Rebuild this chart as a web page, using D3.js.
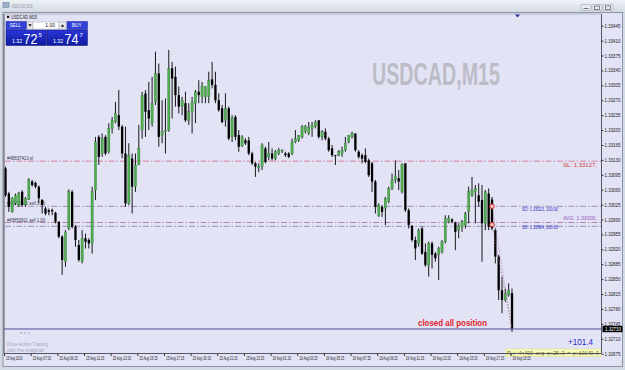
<!DOCTYPE html>
<html><head><meta charset="utf-8">
<script src="https://cdn.jsdelivr.net/npm/d3@7"></script>
<style>html,body{margin:0;padding:0;background:#fff;overflow:hidden}svg{display:block}</style>
</head><body><svg id="c" width="625" height="370"></svg>
<script>
// ---------------- DATA ----------------
const symbol = "USDCAD,M15";
const open  = [1.33110,1.33051,1.33008,1.33028,1.33024,1.33055,1.33024,1.33037,1.33079,1.33076,1.33067,1.33036,1.33016,1.33012,1.33012,1.33006,1.32985,1.32950,1.32891,1.32969,1.33055,1.32973,1.32930,1.32891,1.32946,1.32942,1.32934,1.33059,1.33184,1.33145,1.33184,1.33149,1.33204,1.33219,1.33235,1.33208,1.33145,1.33028,1.33133,1.33067,1.33118,1.33200,1.33286,1.33247,1.33216,1.33266,1.33333,1.33188,1.33196,1.33200,1.33345,1.33325,1.33282,1.33255,1.33263,1.33223,1.33243,1.33263,1.33290,1.33278,1.33278,1.33278,1.33319,1.33306,1.33270,1.33251,1.33223,1.33251,1.33184,1.33231,1.33188,1.33162,1.33176,1.33176,1.33145,1.33122,1.33111,1.33114,1.33157,1.33137,1.33145,1.33133,1.33145,1.33151,1.33145,1.33145,1.33145,1.33172,1.33176,1.33184,1.33196,1.33192,1.33204,1.33208,1.33223,1.33184,1.33196,1.33180,1.33157,1.33141,1.33141,1.33145,1.33153,1.33172,1.33184,1.33192,1.33149,1.33141,1.33141,1.33129,1.33122,1.33079,1.33000,1.33020,1.33016,1.33032,1.33063,1.33083,1.33087,1.33055,1.33122,1.33012,1.32975,1.32942,1.32934,1.32969,1.32914,1.32883,1.32934,1.32910,1.32907,1.32914,1.32938,1.32985,1.32990,1.32982,1.32965,1.32972,1.32977,1.33008,1.33047,1.33055,1.33047,1.33036,1.32981,1.33051,1.33037,1.32965,1.32903,1.32824,1.32801,1.32813,1.32817];
const high  = [1.33114,1.33055,1.33043,1.33051,1.33055,1.33059,1.33043,1.33087,1.33083,1.33079,1.33070,1.33038,1.33020,1.33016,1.33016,1.33008,1.32985,1.32953,1.32965,1.33061,1.33059,1.32977,1.32942,1.32965,1.32957,1.32946,1.33067,1.33184,1.33188,1.33192,1.33188,1.33216,1.33231,1.33266,1.33294,1.33212,1.33208,1.33169,1.33145,1.33145,1.33212,1.33290,1.33294,1.33313,1.33325,1.33384,1.33356,1.33270,1.33274,1.33388,1.33360,1.33349,1.33302,1.33278,1.33290,1.33263,1.33278,1.33294,1.33317,1.33313,1.33302,1.33337,1.33360,1.33337,1.33286,1.33259,1.33286,1.33255,1.33235,1.33235,1.33200,1.33188,1.33181,1.33184,1.33149,1.33125,1.33122,1.33169,1.33161,1.33172,1.33157,1.33153,1.33158,1.33155,1.33149,1.33148,1.33180,1.33200,1.33188,1.33212,1.33212,1.33219,1.33219,1.33223,1.33223,1.33200,1.33204,1.33184,1.33165,1.33141,1.33153,1.33161,1.33184,1.33188,1.33196,1.33192,1.33153,1.33145,1.33157,1.33133,1.33125,1.33083,1.33028,1.33024,1.33043,1.33067,1.33098,1.33129,1.33106,1.33122,1.33122,1.33016,1.32977,1.32950,1.32969,1.32973,1.32934,1.32938,1.32938,1.32914,1.32926,1.32942,1.33000,1.33000,1.32993,1.32985,1.32981,1.32989,1.33008,1.33067,1.33090,1.33071,1.33075,1.33071,1.33059,1.33063,1.33043,1.32969,1.32907,1.32856,1.32828,1.32840,1.32828];
const low   = [1.33043,1.33008,1.33006,1.33024,1.33020,1.33020,1.33020,1.33036,1.33067,1.33063,1.33028,1.33004,1.33000,1.33000,1.33000,1.32981,1.32946,1.32860,1.32879,1.32965,1.32969,1.32926,1.32891,1.32887,1.32922,1.32922,1.32910,1.33036,1.33118,1.33137,1.33141,1.33145,1.33192,1.33216,1.33200,1.33134,1.33020,1.33024,1.33004,1.33055,1.33118,1.33180,1.33184,1.33200,1.33208,1.33259,1.33161,1.33169,1.33145,1.33196,1.33227,1.33255,1.33239,1.33235,1.33219,1.33212,1.33192,1.33216,1.33263,1.33263,1.33263,1.33263,1.33298,1.33263,1.33243,1.33216,1.33208,1.33176,1.33172,1.33176,1.33149,1.33161,1.33165,1.33141,1.33118,1.33090,1.33101,1.33106,1.33122,1.33129,1.33129,1.33129,1.33141,1.33146,1.33137,1.33134,1.33141,1.33169,1.33172,1.33180,1.33192,1.33188,1.33184,1.33204,1.33180,1.33176,1.33176,1.33149,1.33137,1.33118,1.33139,1.33137,1.33149,1.33169,1.33180,1.33149,1.33133,1.33122,1.33122,1.33090,1.33055,1.33004,1.32996,1.32996,1.32977,1.33028,1.33059,1.33075,1.33059,1.33051,1.33008,1.32969,1.32938,1.32895,1.32926,1.32907,1.32879,1.32856,1.32875,1.32891,1.32848,1.32910,1.32934,1.32981,1.32981,1.32918,1.32946,1.32961,1.32969,1.32981,1.33043,1.32981,1.33020,1.32891,1.32965,1.32965,1.32965,1.32887,1.32801,1.32770,1.32797,1.32809,1.32726];
const close = [1.33047,1.33020,1.33040,1.33047,1.33051,1.33024,1.33040,1.33083,1.33071,1.33067,1.33040,1.33024,1.33004,1.33008,1.33009,1.32985,1.32950,1.32895,1.32961,1.33055,1.32973,1.32942,1.32895,1.32946,1.32938,1.32934,1.33055,1.33172,1.33137,1.33180,1.33145,1.33204,1.33223,1.33239,1.33208,1.33145,1.33028,1.33141,1.33067,1.33118,1.33157,1.33282,1.33243,1.33227,1.33263,1.33333,1.33184,1.33196,1.33200,1.33345,1.33321,1.33282,1.33255,1.33270,1.33223,1.33243,1.33266,1.33290,1.33282,1.33303,1.33302,1.33316,1.33306,1.33270,1.33247,1.33219,1.33251,1.33180,1.33227,1.33184,1.33161,1.33184,1.33169,1.33145,1.33122,1.33114,1.33115,1.33165,1.33125,1.33145,1.33133,1.33149,1.33153,1.33152,1.33141,1.33137,1.33172,1.33180,1.33188,1.33208,1.33209,1.33206,1.33212,1.33219,1.33184,1.33196,1.33180,1.33153,1.33141,1.33140,1.33149,1.33153,1.33169,1.33188,1.33192,1.33153,1.33137,1.33133,1.33125,1.33094,1.33079,1.33020,1.33024,1.33008,1.33040,1.33063,1.33083,1.33092,1.33079,1.33120,1.33012,1.32977,1.32942,1.32922,1.32965,1.32910,1.32883,1.32934,1.32907,1.32899,1.32922,1.32938,1.32993,1.32993,1.32985,1.32961,1.32975,1.32985,1.33004,1.33055,1.33059,1.33063,1.33032,1.32981,1.33055,1.32973,1.32969,1.32903,1.32824,1.32801,1.32817,1.32824,1.32733];
const timeLabels = ["15 Aug 2019","15 Aug 07:15","15 Aug 09:15","15 Aug 11:15","15 Aug 13:15","15 Aug 15:15","15 Aug 17:15","15 Aug 19:15","15 Aug 21:15","15 Aug 23:15","16 Aug 01:15","16 Aug 03:15","16 Aug 05:15","16 Aug 07:15","16 Aug 09:15","16 Aug 11:15","16 Aug 13:15","16 Aug 15:15","16 Aug 17:15","16 Aug 19:15"];
const timeLabelBars = [0,8,16,24,32,40,48,56,64,72,80,88,96,104,112,120,128,136,144,152];
const priceTicks = [1.32675,1.32710,1.32745,1.32780,1.32815,1.32850,1.32885,1.32920,1.32955,1.32990,1.33025,1.33060,1.33095,1.33130,1.33165,1.33200,1.33235,1.33270,1.33305,1.33340,1.33375,1.33410,1.33445];
const bidPrice = 1.32733;
const levelPrices = [1.33127, 1.33021, 1.32983, 1.32974];
const levelLeftLabels = ["#45837413 sl", "#45852431 sell 1.00", "#45853611 sell 1.00", ""];
const rightLabels = ["SL: 1.33127,", "SO: 1.33023, 100.00", "AVG: 1.33000,", "SO: 1.32984, 100.00"];
const rightLabelPrices = [1.33127, 1.33021, 1.32983, 1.32974];
const entryBars = [146, 146];
const entryPrices = [1.33021, 1.32978];
const closeBar = 152;
const sellPrice = ["1.32", "72", "5"];
const buyPrice = ["1.32", "74", "7"];
const lotSize = "1.00";
const profitText = "+101.4";
const plText = "PL: 4<400 avg p+25.3 = p+10140.0";
const noteText = "closed all position";
const commentLines = ["* * *", "Price Action Trading", "plot the magical"];

// ---------------- LAYOUT ----------------
const svg = d3.select("#c");
const L = 4, R = 601.5, T = 14, B = 353.5;
const x = d3.scaleLinear().domain([0, 152]).range([5.5, 512]);
const y = d3.scaleLinear().domain([1.32675, 1.33445]).range([353.7, 25.7]);
const bg = "#e3e3f6";

// window frame
svg.append("rect").attr("width",625).attr("height",370).attr("fill","#d3dae3");
const tg = svg.append("defs").append("linearGradient").attr("id","tb").attr("x1",0).attr("y1",0).attr("x2",0).attr("y2",1);
tg.append("stop").attr("offset","0").attr("stop-color","#eef2f6");
tg.append("stop").attr("offset","1").attr("stop-color","#d6dde6");
svg.append("rect").attr("x",0).attr("y",0).attr("width",625).attr("height",11).attr("fill","url(#tb)");
svg.append("rect").attr("x",3).attr("y",2.5).attr("width",6).attr("height",5).attr("fill","#9fb3c8").attr("stroke","#6c88a8").attr("stroke-width",0.6);
svg.append("text").attr("x",11.5).attr("y",7.8).attr("font-family","Liberation Sans, Arial, sans-serif").attr("font-size",5.5).attr("fill","#8894a4").attr("textLength",21).attr("lengthAdjust","spacingAndGlyphs").text(symbol);
[581,592,603].forEach(bx=>{
  svg.append("rect").attr("x",bx).attr("y",4.5).attr("width",10).attr("height",6).attr("rx",1).attr("fill","#e6ebf1").attr("stroke","#98a4b4").attr("stroke-width",0.6);
});
svg.append("line").attr("x1",583.5).attr("x2",588.5).attr("y1",8.5).attr("y2",8.5).attr("stroke","#555").attr("stroke-width",0.8);
svg.append("rect").attr("x",594.5).attr("y",6).attr("width",5).attr("height",3.5).attr("fill","none").attr("stroke","#555").attr("stroke-width",0.7);
svg.append("rect").attr("x",605.5).attr("y",6).attr("width",5).attr("height",3.5).attr("fill","none").attr("stroke","#555").attr("stroke-width",0.7);

// chart background incl. axes
svg.append("rect").attr("x",3).attr("y",12.5).attr("width",619.5).attr("height",354).attr("fill",bg);
svg.append("rect").attr("x",3).attr("y",12.5).attr("width",619.5).attr("height",354).attr("fill","none").attr("stroke","#8d96a3").attr("stroke-width",1);

// comment text
svg.append("text").attr("x",20).attr("y",335.5).attr("font-family","Liberation Sans, Arial, sans-serif").attr("font-size",5).attr("fill","#9a9aae").attr("textLength",10).attr("lengthAdjust","spacingAndGlyphs").text(commentLines[0]);
svg.append("text").attr("x",7).attr("y",345.5).attr("font-family","Liberation Sans, Arial, sans-serif").attr("font-size",4.6).attr("fill","#a6a6b8").attr("textLength",41).attr("lengthAdjust","spacingAndGlyphs").text(commentLines[1]);
svg.append("text").attr("x",7).attr("y",351.5).attr("font-family","Liberation Sans, Arial, sans-serif").attr("font-size",4.6).attr("fill","#a6a6b8").attr("textLength",37).attr("lengthAdjust","spacingAndGlyphs").text(commentLines[2]);

// watermark
svg.append("text").attr("x",372).attr("y",85).attr("font-family","Liberation Sans, Arial, sans-serif").attr("font-weight","bold").attr("font-size",31).attr("fill","#bcbcc6").attr("textLength",128).attr("lengthAdjust","spacingAndGlyphs").text(symbol);

// level lines
const levelColors = ["#cf6a82","#8f77a6","#a86a9e","#8676ad"];
levelPrices.forEach((p,i)=>{
  svg.append("line").attr("x1",L+1).attr("x2",R).attr("y1",y(p)).attr("y2",y(p))
    .attr("stroke",levelColors[i]).attr("stroke-width",0.8).attr("stroke-dasharray","6,2,1.5,2");
});
const leftLabelX = [7,7,7];
levelLeftLabels.forEach((t,i)=>{
  if(!t) return;
  const w = i===0 ? 26 : 38;
  svg.append("text").attr("x",leftLabelX[i]).attr("y",y(levelPrices[i])-1).attr("font-family","Liberation Sans, Arial, sans-serif").attr("font-size",4.6).attr("fill","#333344").attr("textLength",w).attr("lengthAdjust","spacingAndGlyphs").text(t);
});
const rlX = [563,522,563,522], rlDy = [4.5,3,-4.5,1], rlCol = ["#d23a3a","#2b2bc4","#9a55c0","#2b2bc4"], rlW=[34,36,34,36];
rightLabels.forEach((t,i)=>{
  svg.append("text").attr("x",rlX[i]).attr("y",y(rightLabelPrices[i])+rlDy[i]+1.5).attr("font-family","Liberation Sans, Arial, sans-serif").attr("font-size",4.8).attr("fill",rlCol[i]).attr("textLength",rlW[i]).attr("lengthAdjust","spacingAndGlyphs").text(t);
});

// candles
const idx = d3.range(open.length);
const g = svg.append("g");
g.selectAll("line.w").data(idx).join("line").attr("class","w")
  .attr("x1",i=>x(i)).attr("x2",i=>x(i)).attr("y1",i=>y(high[i])).attr("y2",i=>y(low[i]))
  .attr("stroke","#000").attr("stroke-width",0.9);
const bw = 2.3;
g.selectAll("rect.b").data(idx).join("rect").attr("class","b")
  .attr("x",i=>x(i)-bw/2).attr("width",bw)
  .attr("y",i=>y(Math.max(open[i],close[i])))
  .attr("height",i=>Math.max(0.9, Math.abs(y(open[i])-y(close[i]))))
  .attr("fill",i=>close[i]>=open[i] ? "#4fae4f" : "#000")
  .attr("stroke",i=>close[i]>=open[i] ? "#2f6f2f" : "none").attr("stroke-width",0.3);

// trade lines & markers
entryBars.forEach((b,i)=>{
  svg.append("line").attr("x1",x(b)).attr("y1",y(entryPrices[i])).attr("x2",x(closeBar)).attr("y2",y(bidPrice))
    .attr("stroke","#9a6a8a").attr("stroke-width",0.7).attr("stroke-dasharray","1.5,1.5").attr("opacity",0.8);
  svg.append("circle").attr("cx",x(b)).attr("cy",y(entryPrices[i])).attr("r",2.2).attr("fill","#f4d0d0").attr("stroke","#e02020").attr("stroke-width",1);
});

// bid line
svg.append("line").attr("x1",L).attr("x2",R).attr("y1",y(bidPrice)).attr("y2",y(bidPrice)).attr("stroke","#4a4a9a").attr("stroke-width",1);

// note text
svg.append("text").attr("x",418).attr("y",326).attr("font-family","Liberation Sans, Arial, sans-serif").attr("font-weight","bold").attr("font-size",8.5).attr("fill","#e0262a").attr("textLength",69).attr("lengthAdjust","spacingAndGlyphs").text(noteText);

// profit text
svg.append("text").attr("x",568).attr("y",344.5).attr("font-family","Liberation Sans, Arial, sans-serif").attr("font-size",8.5).attr("fill","#2a2ac0").attr("textLength",25).attr("lengthAdjust","spacingAndGlyphs").text(profitText);
svg.append("rect").attr("x",505.5).attr("y",349).attr("width",96).attr("height",7.5).attr("fill","#fafab8").attr("stroke","#d6d690").attr("stroke-width",0.5);
svg.append("text").attr("x",507).attr("y",354.8).attr("font-family","Liberation Mono, DejaVu Sans Mono, monospace").attr("font-size",4.8).attr("fill","#5a6a2a").attr("textLength",92).attr("lengthAdjust","spacingAndGlyphs").text(plText);

// chart borders
svg.append("line").attr("x1",R).attr("x2",R).attr("y1",T).attr("y2",B).attr("stroke","#555566").attr("stroke-width",1);
svg.append("line").attr("x1",L).attr("x2",R).attr("y1",B).attr("y2",B).attr("stroke","#555566").attr("stroke-width",1);
svg.append("line").attr("x1",L).attr("x2",L).attr("y1",T).attr("y2",B).attr("stroke","#555566").attr("stroke-width",1);
svg.append("line").attr("x1",L).attr("x2",R).attr("y1",T).attr("y2",T).attr("stroke","#8d96a3").attr("stroke-width",0.6);

// price axis
const yAxis = d3.axisRight(y).tickValues(priceTicks).tickSize(2).tickPadding(1).tickFormat(d3.format(".5f"));
const ya = svg.append("g").attr("transform",`translate(${R},0)`).call(yAxis);
ya.select(".domain").remove();
ya.selectAll("line").attr("stroke","#333");
ya.selectAll("text").attr("font-family","Liberation Sans, Arial, sans-serif").attr("font-size",4.8).attr("fill","#222").attr("textLength",16).attr("lengthAdjust","spacingAndGlyphs");
// bid price box
svg.append("rect").attr("x",R+1).attr("y",y(bidPrice)-3.2).attr("width",20).attr("height",6.4).attr("fill","#000");
svg.append("text").attr("x",R+3.5).attr("y",y(bidPrice)+1.8).attr("font-family","Liberation Sans, Arial, sans-serif").attr("font-size",4.8).attr("fill","#fff").attr("textLength",16).attr("lengthAdjust","spacingAndGlyphs").text(d3.format(".5f")(bidPrice));

// time axis
const xAxis = d3.axisBottom(x).tickValues(timeLabelBars).tickSize(2.5).tickPadding(1).tickFormat((d,i)=>timeLabels[i]);
const xa = svg.append("g").attr("transform",`translate(-1.5,${B})`).call(xAxis);
xa.select(".domain").remove();
xa.selectAll("line").attr("stroke","#333");
xa.selectAll("text").attr("text-anchor","start").attr("dx",1.5).attr("font-family","Liberation Sans, Arial, sans-serif").attr("font-size",4.8).attr("fill","#222")
  .attr("textLength",(d,i)=> i===0 ? 16.5 : 18.3).attr("lengthAdjust","spacingAndGlyphs");

// chart shift marker
svg.append("path").attr("d",`M${x(152)+3},${T+0.5} l5,0 l-2.5,3 z`).attr("fill","#2a2aa0");

// top-left symbol label
svg.append("rect").attr("x",7).attr("y",15.8).attr("width",2.2).attr("height",2.2).attr("fill","#111");
svg.append("text").attr("x",11).attr("y",19).attr("font-family","Liberation Sans, Arial, sans-serif").attr("font-size",4.6).attr("fill","#222").attr("textLength",26).attr("lengthAdjust","spacingAndGlyphs").text(symbol);

// one-click trading panel
const pg = svg.append("defs").append("linearGradient").attr("id","pb").attr("x1",0).attr("y1",0).attr("x2",0).attr("y2",1);
pg.append("stop").attr("offset","0").attr("stop-color","#2a36d8");
pg.append("stop").attr("offset","1").attr("stop-color","#0e1a9e");
svg.append("rect").attr("x",6).attr("y",21.5).attr("width",20.5).attr("height",8).attr("fill","#3340d6").attr("stroke","#1a24a0").attr("stroke-width",0.5);
svg.append("text").attr("x",9.5).attr("y",27.2).attr("font-family","Liberation Sans, Arial, sans-serif").attr("font-size",4.6).attr("fill","#fff").text("SELL");
svg.append("rect").attr("x",27).attr("y",22).attr("width",6).attr("height",7).attr("fill","#e8e8ee").attr("stroke","#999").attr("stroke-width",0.4);
svg.append("path").attr("d","M28.3,24.3 l3.4,0 l-1.7,2.4 z").attr("fill","#111");
svg.append("rect").attr("x",33).attr("y",22).attr("width",26).attr("height",7).attr("fill","#fff").attr("stroke","#999").attr("stroke-width",0.4);
svg.append("text").attr("x",55).attr("y",27.4).attr("text-anchor","end").attr("font-family","Liberation Sans, Arial, sans-serif").attr("font-size",5).attr("fill","#111").text(lotSize);
svg.append("rect").attr("x",59).attr("y",22).attr("width",7).attr("height",7).attr("fill","#e8e8ee").attr("stroke","#999").attr("stroke-width",0.4);
svg.append("path").attr("d","M60.8,26.7 l3.4,0 l-1.7,-2.4 z").attr("fill","#111");
svg.append("rect").attr("x",67).attr("y",21.5).attr("width",20.5).attr("height",8).attr("fill","#3340d6").attr("stroke","#1a24a0").attr("stroke-width",0.5);
svg.append("text").attr("x",72).attr("y",27.2).attr("font-family","Liberation Sans, Arial, sans-serif").attr("font-size",4.6).attr("fill","#fff").text("BUY");
[[6,sellPrice],[47,buyPrice]].forEach(([px,pr])=>{
  svg.append("rect").attr("x",px).attr("y",30).attr("width",40.5).attr("height",15.5).attr("fill","url(#pb)").attr("stroke","#0a1270").attr("stroke-width",0.5);
  svg.append("text").attr("x",px+6).attr("y",42.5).attr("font-family","Liberation Sans, Arial, sans-serif").attr("font-size",5.2).attr("fill","#fff").text(pr[0]);
  svg.append("text").attr("x",px+17.5).attr("y",43.5).attr("font-family","Liberation Sans, Arial, sans-serif").attr("font-size",14).attr("fill","#fff").attr("textLength",14).attr("lengthAdjust","spacingAndGlyphs").text(pr[1]);
  svg.append("text").attr("x",px+32.5).attr("y",36.5).attr("font-family","Liberation Sans, Arial, sans-serif").attr("font-size",6).attr("fill","#fff").text(pr[2]);
});
</script></body></html>
